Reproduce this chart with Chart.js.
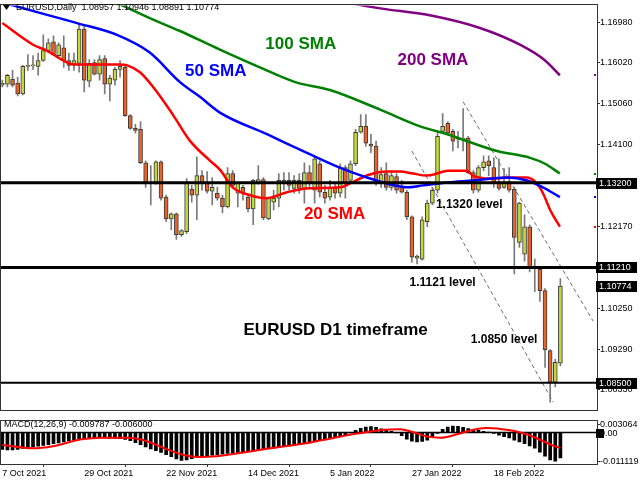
<!DOCTYPE html>
<html>
<head>
<meta charset="utf-8">
<title>EURUSD D1</title>
<script src="https://cdn.jsdelivr.net/npm/chart.js@4.4.1/dist/chart.umd.min.js"></script>
<style>
    html, body { margin: 0; padding: 0; background: #fff; }
    #wrap { position: relative; width: 640px; height: 480px; overflow: hidden; }
    #mainChart { position: absolute; left: 0; top: 0; }
    #macdChart { position: absolute; left: 0; top: 416px; }
</style>
</head>
<body>
<div id="wrap">
    <canvas id="mainChart" width="640" height="416"></canvas>
    <canvas id="macdChart" width="640" height="64"></canvas>
</div>
<script>
// Данные свечей EURUSD, D1, бар 0 = 7 Oct 2021
const opens = [
    1.15499, 1.15522, 1.15639, 1.15545, 1.15291, 1.15939, 1.15950, 1.15939, 1.16078, 1.16309,
    1.16517, 1.16193, 1.16378, 1.16078, 1.15985, 1.16008, 1.16818, 1.15592, 1.16031, 1.15754,
    1.16124, 1.15522, 1.15615, 1.15869, 1.15915, 1.14782, 1.14481, 1.14458, 1.13672, 1.13210,
    1.13210, 1.13695, 1.12863, 1.12354, 1.12469, 1.11983, 1.12053, 1.13048, 1.12909, 1.13371,
    1.13186, 1.13002, 1.12955, 1.12840, 1.12631, 1.13418, 1.12955, 1.13094, 1.12863, 1.12585,
    1.13186, 1.13279, 1.12354, 1.12747, 1.12840, 1.13186, 1.13256, 1.13071, 1.13256, 1.13071,
    1.13441, 1.13025, 1.13649, 1.12979, 1.12863, 1.13094, 1.12955, 1.13556, 1.13256, 1.13649,
    1.14389, 1.14528, 1.14111, 1.14065, 1.13210, 1.13418, 1.13094, 1.13348, 1.13094, 1.12979,
    1.12400, 1.11429, 1.11406, 1.12284, 1.12724, 1.13025, 1.14412, 1.14597, 1.14412, 1.14250,
    1.14227, 1.14250, 1.13441, 1.13025, 1.13556, 1.13718, 1.13556, 1.13186, 1.13094, 1.13210,
    1.13048, 1.11798, 1.11521, 1.12168, 1.11221, 1.11174, 1.10666, 1.09254, 1.08514, 1.08957
];
const highs = [
    1.15615, 1.15754, 1.15846, 1.15684, 1.15962, 1.16216, 1.16193, 1.16254, 1.16679, 1.16586,
    1.16656, 1.16494, 1.16656, 1.16254, 1.16254, 1.16910, 1.16887, 1.16101, 1.16101, 1.16193,
    1.16193, 1.15730, 1.15915, 1.16078, 1.15962, 1.14805, 1.14574, 1.14643, 1.13718, 1.13603,
    1.13718, 1.13718, 1.12909, 1.12493, 1.12493, 1.12099, 1.13302, 1.13140, 1.13811, 1.13487,
    1.13464, 1.13325, 1.13094, 1.12909, 1.13556, 1.13487, 1.13210, 1.13140, 1.12909, 1.13279,
    1.13603, 1.13325, 1.12863, 1.13025, 1.13418, 1.13441, 1.13441, 1.13371, 1.13418, 1.13672,
    1.13603, 1.13834, 1.13718, 1.13140, 1.13256, 1.13210, 1.13649, 1.13603, 1.13718, 1.14458,
    1.14805, 1.14805, 1.14343, 1.14181, 1.13556, 1.13672, 1.13487, 1.13418, 1.13256, 1.13025,
    1.12423, 1.11498, 1.12400, 1.12793, 1.13094, 1.14366, 1.14828, 1.14643, 1.14458, 1.14412,
    1.14944, 1.14296, 1.13487, 1.13603, 1.13834, 1.13834, 1.13788, 1.13765, 1.13533, 1.13556,
    1.13094, 1.12747, 1.12446, 1.12215, 1.11406, 1.11221, 1.10712, 1.09278, 1.09046, 1.10946
];
const lows = [
    1.15453, 1.15453, 1.15453, 1.15245, 1.15268, 1.15846, 1.15869, 1.15730, 1.16054, 1.16254,
    1.16193, 1.16147, 1.15915, 1.15846, 1.15846, 1.15800, 1.15337, 1.15453, 1.15730, 1.15615,
    1.15291, 1.15129, 1.15499, 1.15684, 1.14759, 1.14458, 1.14366, 1.13649, 1.13094, 1.12678,
    1.13163, 1.12793, 1.12284, 1.12099, 1.11867, 1.11937, 1.12006, 1.12747, 1.12331, 1.13025,
    1.12955, 1.12678, 1.12793, 1.12493, 1.12608, 1.13094, 1.12631, 1.12793, 1.12516, 1.12215,
    1.13163, 1.12331, 1.12331, 1.12562, 1.12631, 1.13025, 1.13025, 1.12955, 1.12955, 1.12724,
    1.13094, 1.12724, 1.12863, 1.12724, 1.12793, 1.12840, 1.12863, 1.12840, 1.13186, 1.13603,
    1.14366, 1.14065, 1.13903, 1.13140, 1.13094, 1.13025, 1.13025, 1.12955, 1.12955, 1.12331,
    1.11336, 1.11290, 1.11383, 1.12168, 1.12678, 1.12955, 1.14366, 1.14343, 1.13949, 1.14019,
    1.13949, 1.13418, 1.12955, 1.12979, 1.13487, 1.13371, 1.13094, 1.13025, 1.13071, 1.12979,
    1.11059, 1.11683, 1.11359, 1.11105, 1.10643, 1.10411, 1.08861, 1.08042, 1.08399, 1.08891
];
const closes = [
    1.15545, 1.15730, 1.15499, 1.15291, 1.15939, 1.15962, 1.15973, 1.16078, 1.16309, 1.16494,
    1.16216, 1.16448, 1.16078, 1.15962, 1.16078, 1.16818, 1.15615, 1.16008, 1.15754, 1.16101,
    1.15522, 1.15661, 1.15869, 1.15939, 1.14782, 1.14481, 1.14435, 1.13672, 1.13210, 1.13186,
    1.13695, 1.12840, 1.12354, 1.12469, 1.11983, 1.12076, 1.13210, 1.12909, 1.13371, 1.13186,
    1.13002, 1.13094, 1.12840, 1.12631, 1.13418, 1.13140, 1.13186, 1.12955, 1.12585, 1.13256,
    1.13279, 1.12377, 1.12840, 1.12840, 1.13256, 1.13256, 1.13140, 1.13256, 1.13071, 1.13441,
    1.13210, 1.13765, 1.12979, 1.12840, 1.13094, 1.12955, 1.13556, 1.13210, 1.13649, 1.14389,
    1.14528, 1.14134, 1.14065, 1.13210, 1.13395, 1.13094, 1.13371, 1.13025, 1.12979, 1.12400,
    1.11452, 1.11475, 1.12331, 1.12724, 1.13025, 1.14296, 1.14528, 1.14366, 1.14181, 1.14227,
    1.14250, 1.13441, 1.13025, 1.13556, 1.13695, 1.13603, 1.13186, 1.13071, 1.13210, 1.13025,
    1.11914, 1.12724, 1.12168, 1.11221, 1.11174, 1.10666, 1.09278, 1.08514, 1.08977, 1.10774
];

// Скользящие средние: [номер бара, цена]
const sma20 = [
    [0, 1.16957], [6, 1.16448], [8.7, 1.16309], [11.9, 1.16078], [13.8, 1.15985], [16.5, 1.15985],
    [23, 1.15985], [24.4, 1.15962], [26.9, 1.15800], [30.2, 1.15337], [33.3, 1.14805], [36.7, 1.14181],
    [40.6, 1.13718], [42.5, 1.13510], [45, 1.13094], [48.4, 1.12909], [51.7, 1.12840], [55.6, 1.12979],
    [60.1, 1.13071], [66, 1.13094], [67.9, 1.13186], [69.9, 1.13302], [72.4, 1.13418], [75.1, 1.13464],
    [77.7, 1.13464], [80.2, 1.13418], [82.9, 1.13371], [84.9, 1.13418], [86.9, 1.13487], [90.8, 1.13487],
    [91.9, 1.13371], [95.3, 1.13302], [99.8, 1.13325], [102.5, 1.13325], [104.4, 1.13186], [105.6, 1.12955],
    [107, 1.12562], [108.9, 1.12168]
];
const sma50 = [
    [1.5, 1.17396], [2.1, 1.17373], [14.6, 1.16957], [22.4, 1.16679], [28.8, 1.16263], [34.7, 1.15569],
    [38.6, 1.15222], [42.5, 1.14852], [51.7, 1.14343], [59.5, 1.13903], [65.9, 1.13556], [71.2, 1.13325],
    [75.1, 1.13186], [79, 1.13094], [82.2, 1.13140], [86.9, 1.13210], [91.9, 1.13256], [98.6, 1.13325],
    [102.5, 1.13256], [105.6, 1.13094], [108.9, 1.12863]
];
const sma100 = [
    [21.4, 1.17488], [28.8, 1.17072], [34.7, 1.16771], [42.5, 1.16332], [50.3, 1.15915], [57.2, 1.15569],
    [64, 1.15384], [73.8, 1.14921], [81.6, 1.14528], [86.9, 1.14343], [96.6, 1.13949], [103.1, 1.13788],
    [106, 1.13649], [108.9, 1.13418]
];
const sma200 = [
    [66, 1.17465], [73.8, 1.17303], [83.5, 1.17141], [93.3, 1.16841], [101.1, 1.16448], [106, 1.16078],
    [108.9, 1.15730]
];

// Горизонтальные уровни и наклонный канал
const levels = [1.1320, 1.1121, 1.0850];
const trendLines = [
    [[80.0, 1.13949], [107.6, 1.08042]],
    [[90.0, 1.15106], [115.4, 1.09948]]
];

// MACD(12,26,9): гистограмма по барам и сигнальная линия [бар, значение]
const macdHist = [
    -0.0066, -0.0067, -0.0067, -0.0066, -0.0062, -0.0059, -0.0056, -0.0053, -0.0050, -0.0047,
    -0.0043, -0.0040, -0.0036, -0.0032, -0.0029, -0.0025, -0.0024, -0.0022, -0.0021, -0.0021,
    -0.0021, -0.0022, -0.0023, -0.0024, -0.0027, -0.0032, -0.0039, -0.0047, -0.0056, -0.0064,
    -0.0070, -0.0077, -0.0086, -0.0094, -0.0102, -0.0108, -0.0106, -0.0101, -0.0096, -0.0093,
    -0.0091, -0.0088, -0.0086, -0.0084, -0.0081, -0.0079, -0.0077, -0.0075, -0.0073, -0.0071,
    -0.0068, -0.0066, -0.0064, -0.0061, -0.0058, -0.0055, -0.0052, -0.0049, -0.0046, -0.0043,
    -0.0040, -0.0035, -0.0031, -0.0027, -0.0023, -0.0019, -0.0014, -0.0009, -0.0002, 0.0008,
    0.0016, 0.0021, 0.0023, 0.0020, 0.0014, 0.0009, 0.0005, -0.0002, -0.0012, -0.0026,
    -0.0034, -0.0036, -0.0035, -0.0030, -0.0018, -0.0004, 0.0012, 0.0021, 0.0025, 0.0024,
    0.0020, 0.0015, 0.0011, 0.0008, 0.0005, 0.0002, -0.0004, -0.0010, -0.0016, -0.0021,
    -0.0030, -0.0036, -0.0043, -0.0052, -0.0061, -0.0076, -0.0092, -0.0106, -0.0111, -0.0098
];
const macdSignal = [
    [0, -0.0048], [5.9, -0.0061], [9.9, -0.0053], [15.5, -0.0026], [19.5, -0.0020], [24.3, -0.0020],
    [27.5, -0.0029], [31.4, -0.0059], [35.4, -0.0087], [38.6, -0.0095], [41.8, -0.0092], [45.8, -0.0081],
    [51.4, -0.0064], [59.3, -0.0042], [64.9, -0.0020], [69.7, -0.0003], [74.5, 0.0011], [77.7, 0.0013],
    [80.1, 0.0002], [83.3, -0.0017], [85.6, -0.0020], [88.8, -0.0007], [92, 0.0011], [94.4, 0.0017],
    [97.6, 0.0013], [100, 0.0006], [102.4, -0.0007], [104.8, -0.0026], [107.2, -0.0048], [109, -0.0060]
];

// Оси
const priceTicks = [1.1698, 1.1602, 1.1506, 1.1410, 1.1314, 1.1217, 1.1121, 1.1025, 1.0929, 1.0833];
const macdTicks = [0.003064, -0.011119];
const dateTicks = ['7 Oct 2021', '29 Oct 2021', '22 Nov 2021', '14 Dec 2021', '5 Jan 2022', '27 Jan 2022', '18 Feb 2022'];
const barsPerDateTick = 16;

// Подписи на графике: текст, бар, цена
const notes = [
    { text: '100 SMA', x: 58.3, y: 1.16448, color: '#008000', size: 17 },
    { text: '200 SMA', x: 84.1, y: 1.16078, color: '#800080', size: 17 },
    { text: '50 SMA', x: 41.7, y: 1.15823, color: '#0000ff', size: 17 },
    { text: '20 SMA', x: 64.9, y: 1.12469, color: '#ff0000', size: 17 },
    { text: '1.1320 level', x: 91.2, y: 1.12678, color: '#000', size: 12 },
    { text: '1.1121 level', x: 86.0, y: 1.10850, color: '#000', size: 12 },
    { text: 'EURUSD D1 timeframe', x: 65.1, y: 1.09740, color: '#000', size: 17 },
    { text: '1.0850 level', x: 98.0, y: 1.09508, color: '#000', size: 12 }
];

const X_MIN = -0.254;
const X_MAX = 116.15;
const FONT = "'Liberation Sans', Arial, sans-serif";
const BULL = '#c5d63c';
const BEAR = '#e8632a';
const FRAME = '#333';

Chart.defaults.font.family = FONT;
Chart.defaults.animation = false;
Chart.defaults.plugins.legend.display = false;
Chart.defaults.plugins.tooltip.enabled = false;

const toPoints = arr => arr.map(p => ({ x: p[0], y: p[1] }));

// Рамка вокруг области графика, как в MT4
const framePlugin = {
    id: 'frame',
    afterDraw(chart) {
        const { ctx, chartArea: a } = chart;
        ctx.save();
        ctx.strokeStyle = FRAME;
        ctx.lineWidth = 1;
        ctx.strokeRect(Math.round(a.left) - 0.5, Math.round(a.top) - 0.5,
            Math.round(a.right - a.left) + 1, Math.round(a.bottom - a.top) + 1);
        ctx.restore();
    }
};

function priceBox(ctx, y, text) {
    ctx.fillStyle = '#000';
    ctx.fillRect(596, Math.round(y) - 5, 41, 11);
    ctx.fillStyle = '#fff';
    ctx.font = '9px ' + FONT;
    ctx.textAlign = 'left';
    ctx.textBaseline = 'middle';
    ctx.fillText(text, 599, Math.round(y) + 0.5);
}

// Подписи, метки уровней и заголовок основного окна
const mainDecor = {
    id: 'mainDecor',
    afterDraw(chart) {
        const { ctx } = chart;
        const xs = chart.scales.x;
        const ys = chart.scales.y;
        ctx.save();

        notes.forEach(n => {
            ctx.font = 'bold ' + n.size + 'px ' + FONT;
            ctx.fillStyle = n.color;
            ctx.textAlign = 'center';
            ctx.textBaseline = 'middle';
            ctx.fillText(n.text, xs.getPixelForValue(n.x), ys.getPixelForValue(n.y));
        });

        // точки концов скользящих на правом краю
        [[sma20, '#ff0000'], [sma50, '#0000ff'], [sma100, '#008000'], [sma200, '#800080']].forEach(([s, c]) => {
            const y = ys.getPixelForValue(s[s.length - 1][1]);
            ctx.fillStyle = c;
            ctx.fillRect(594, Math.round(y) - 1, 2, 2);
        });

        levels.forEach(v => priceBox(ctx, ys.getPixelForValue(v), v.toFixed(5)));
        const last = closes.length - 1;
        priceBox(ctx, ys.getPixelForValue(closes[last]), closes[last].toFixed(5));

        // заголовок
        ctx.fillStyle = '#000';
        ctx.beginPath();
        ctx.moveTo(3, 5);
        ctx.lineTo(10, 5);
        ctx.lineTo(6.5, 10);
        ctx.closePath();
        ctx.fill();
        ctx.font = '9px ' + FONT;
        ctx.textAlign = 'left';
        ctx.textBaseline = 'middle';
        const header = 'EURUSD,Daily  ' + [opens[last], highs[last], lows[last], closes[last]]
            .map(v => v.toFixed(5)).join(' ');
        ctx.fillText(header, 16, 8);
        ctx.restore();
    }
};

const mainDatasets = [
    {
        type: 'bar',
        data: opens.map((o, i) => ({ x: i, y: [lows[i], highs[i]] })),
        backgroundColor: '#7a7a7a',
        barThickness: 1,
        grouped: false,
        order: 4
    },
    {
        type: 'bar',
        data: opens.map((o, i) => ({ x: i, y: [o, closes[i]] })),
        backgroundColor: opens.map((o, i) => closes[i] >= o ? BULL : BEAR),
        borderColor: '#3a3a3a',
        borderWidth: 1,
        borderSkipped: false,
        barThickness: 4,
        grouped: false,
        order: 3
    }
];

trendLines.forEach(t => mainDatasets.push({
    type: 'line',
    data: toPoints(t),
    borderColor: '#6a6a6a',
    borderWidth: 1,
    borderDash: [4, 3],
    pointRadius: 0,
    order: 5
}));

[[sma200, '#800080'], [sma100, '#008000'], [sma50, '#0000ff'], [sma20, '#ff0000']].forEach(([s, c]) => mainDatasets.push({
    type: 'line',
    data: toPoints(s),
    borderColor: c,
    borderWidth: 2.5,
    cubicInterpolationMode: 'monotone',
    pointRadius: 0,
    order: 1
}));

levels.forEach((v, k) => mainDatasets.push({
    type: 'line',
    data: [{ x: X_MIN, y: v }, { x: X_MAX, y: v }],
    borderColor: '#000',
    borderWidth: k < 2 ? 3 : 2,
    pointRadius: 0,
    order: 0
}));

new Chart(document.getElementById('mainChart'), {
    type: 'bar',
    data: { datasets: mainDatasets },
    options: {
        responsive: false,
        devicePixelRatio: 1,
        layout: { padding: { left: 1, top: 2, bottom: 2, right: 0 } },
        scales: {
            x: { type: 'linear', display: false, min: X_MIN, max: X_MAX, offset: false },
            y: {
                position: 'right',
                min: 1.07843,
                max: 1.17373,
                afterFit: s => { s.width = 43; },
                afterBuildTicks: s => { s.ticks = priceTicks.map(v => ({ value: v })); },
                border: { display: false },
                grid: { drawOnChartArea: false, tickLength: 3, color: FRAME },
                ticks: {
                    font: { size: 9 },
                    color: '#000',
                    padding: 0,
                    callback: v => Number(v).toFixed(5)
                }
            }
        }
    },
    plugins: [framePlugin, mainDecor]
});

// Окно MACD
const macdDecor = {
    id: 'macdDecor',
    afterDraw(chart) {
        const { ctx } = chart;
        const y0 = chart.scales.y.getPixelForValue(0);
        ctx.save();
        ctx.font = '9px ' + FONT;
        ctx.fillStyle = '#000';
        ctx.textAlign = 'left';
        ctx.textBaseline = 'middle';
        ctx.fillText('MACD(12,26,9) -0.009787 -0.006000', 4, 9);
        ctx.fillRect(596, Math.round(y0) - 4, 8, 9);
        ctx.fillText('0.00', 600, Math.round(y0) + 1);
        ctx.restore();
    }
};

new Chart(document.getElementById('macdChart'), {
    type: 'bar',
    data: {
        datasets: [
            {
                type: 'line',
                data: macdSignal.map(p => ({ x: p[0], y: p[1] })),
                borderColor: '#ff0000',
                borderWidth: 2,
                cubicInterpolationMode: 'monotone',
                pointRadius: 0,
                order: 0
            },
            {
                type: 'line',
                data: [{ x: X_MIN, y: 0 }, { x: X_MAX, y: 0 }],
                borderColor: '#000',
                borderWidth: 1.5,
                pointRadius: 0,
                order: 1
            },
            {
                type: 'bar',
                data: macdHist.map((v, i) => ({ x: i, y: v })),
                backgroundColor: '#000',
                barThickness: 3,
                grouped: false,
                order: 2
            }
        ]
    },
    options: {
        responsive: false,
        devicePixelRatio: 1,
        layout: { padding: { left: 1, top: 1, bottom: 0, right: 0 } },
        scales: {
            x: {
                type: 'linear',
                min: X_MIN,
                max: X_MAX,
                offset: false,
                afterFit: s => { s.height = 16; },
                afterBuildTicks: s => { s.ticks = dateTicks.map((d, k) => ({ value: k * barsPerDateTick })); },
                border: { display: false },
                grid: { drawOnChartArea: false, tickLength: 3, color: FRAME },
                ticks: {
                    font: { size: 9 },
                    color: '#000',
                    padding: 1,
                    align: 'start',
                    maxRotation: 0,
                    autoSkip: false,
                    callback: v => dateTicks[Math.round(v / barsPerDateTick)]
                }
            },
            y: {
                position: 'right',
                min: -0.0122,
                max: 0.0043,
                afterFit: s => { s.width = 43; },
                afterBuildTicks: s => { s.ticks = macdTicks.map(v => ({ value: v })); },
                border: { display: false },
                grid: { drawOnChartArea: false, tickLength: 3, color: FRAME },
                ticks: {
                    font: { size: 9 },
                    color: '#000',
                    padding: 0,
                    callback: v => Number(v).toFixed(6)
                }
            }
        }
    },
    plugins: [framePlugin, macdDecor]
});
</script>
</body>
</html>
